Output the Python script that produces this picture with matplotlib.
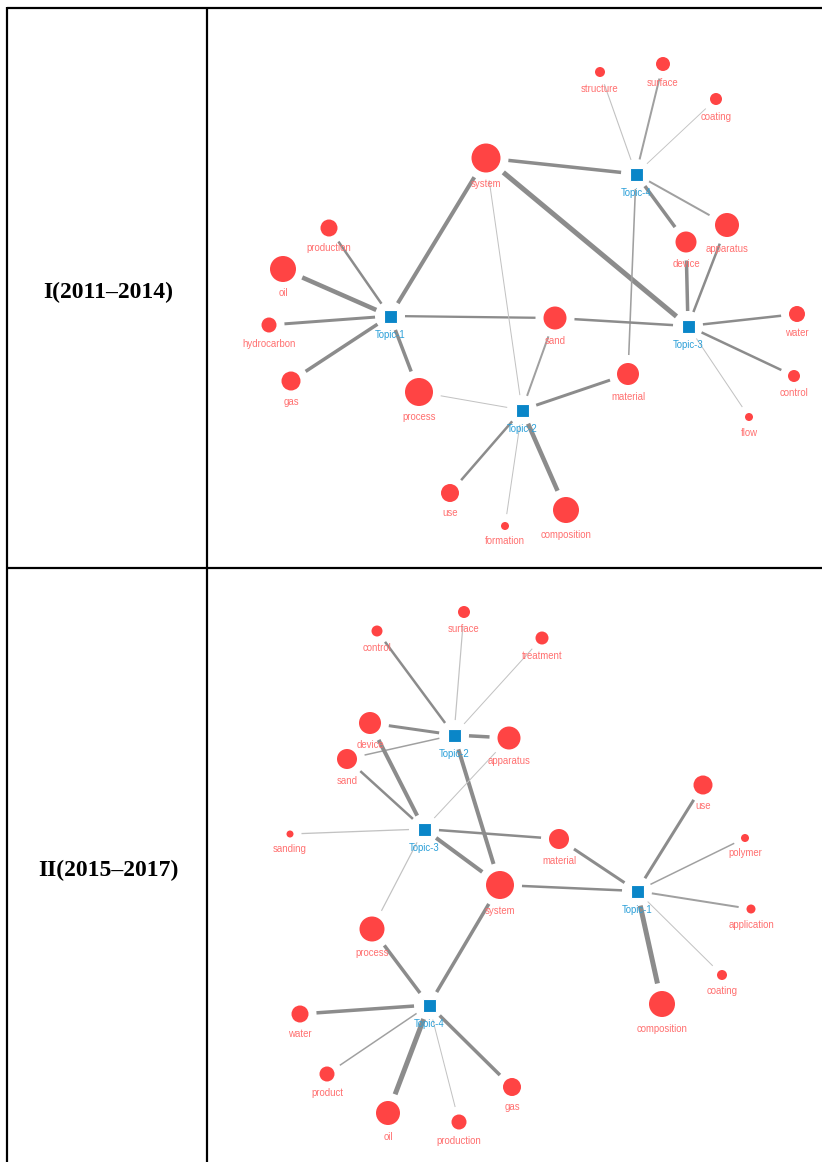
import numpy as np
import matplotlib
matplotlib.use("Agg")
import matplotlib.pyplot as plt
from matplotlib.patches import Circle, Rectangle

# ---- panel I (2011-2014) ----
p1_topics = ["Topic-1", "Topic-2", "Topic-3", "Topic-4"]
p1_topic_x = [390, 522, 688, 636]
p1_topic_y = [316, 410, 326, 174]

p1_terms = ["system", "production", "oil", "hydrocarbon", "gas", "process",
            "use", "formation", "composition", "sand", "material", "water",
            "control", "flow", "device", "apparatus", "structure", "surface",
            "coating"]
p1_term_x = [486, 329, 283, 269, 291, 419, 450, 505, 566, 555, 628, 797,
             794, 749, 686, 727, 600, 663, 716]
p1_term_y = [158, 228, 269, 325, 381, 392, 493, 526, 510, 318, 374, 314,
             376, 417, 242, 225, 72, 64, 99]
p1_term_w = [14.5, 8.5, 13, 7.5, 9.5, 14, 9, 4, 13, 11.5, 11, 8, 6, 4,
             10.5, 12, 5, 7, 6]

p1_edges = [
    ("Topic-1", "system", 4.0), ("Topic-1", "production", 2.5),
    ("Topic-1", "oil", 4.5), ("Topic-1", "hydrocarbon", 3.0),
    ("Topic-1", "gas", 3.5), ("Topic-1", "process", 3.5),
    ("Topic-1", "sand", 2.3),
    ("Topic-4", "system", 3.5), ("Topic-3", "system", 5.0),
    ("Topic-2", "system", 1.0),
    ("Topic-4", "structure", 1.1), ("Topic-4", "surface", 2.0),
    ("Topic-4", "coating", 0.9), ("Topic-4", "apparatus", 2.0),
    ("Topic-4", "device", 3.5), ("Topic-4", "material", 1.6),
    ("Topic-3", "device", 3.5), ("Topic-3", "apparatus", 2.5),
    ("Topic-3", "water", 2.5), ("Topic-3", "control", 2.5),
    ("Topic-3", "flow", 1.0), ("Topic-3", "sand", 2.5),
    ("Topic-2", "sand", 2.0), ("Topic-2", "material", 3.0),
    ("Topic-2", "process", 1.0), ("Topic-2", "use", 2.5),
    ("Topic-2", "formation", 1.0), ("Topic-2", "composition", 4.5),
]

# ---- panel II (2015-2017) ----
p2_topics = ["Topic-1", "Topic-2", "Topic-3", "Topic-4"]
p2_topic_x = [637, 454, 424, 429]
p2_topic_y = [891, 735, 829, 1005]

p2_terms = ["control", "surface", "treatment", "device", "apparatus", "sand",
            "sanding", "material", "system", "process", "use", "polymer",
            "application", "coating", "composition", "water", "product",
            "oil", "production", "gas"]
p2_term_x = [377, 464, 542, 370, 509, 347, 290, 559, 500, 372, 703, 745,
             751, 722, 662, 300, 327, 388, 459, 512]
p2_term_y = [631, 612, 638, 723, 738, 759, 834, 839, 885, 929, 785, 838,
             909, 975, 1004, 1014, 1074, 1113, 1122, 1087]
p2_term_w = [5.5, 6, 6.5, 11, 11.5, 10, 3.5, 10, 14, 12.5, 9.5, 4, 4.5,
             5, 13, 8.5, 7.5, 12, 7.5, 9]

p2_edges = [
    ("Topic-2", "control", 2.5), ("Topic-2", "surface", 1.2),
    ("Topic-2", "treatment", 1.0), ("Topic-2", "device", 3.0),
    ("Topic-2", "apparatus", 3.5), ("Topic-2", "sand", 1.5),
    ("Topic-2", "system", 4.0),
    ("Topic-3", "device", 4.0), ("Topic-3", "sand", 2.5),
    ("Topic-3", "apparatus", 1.0), ("Topic-3", "sanding", 1.3),
    ("Topic-3", "material", 2.5), ("Topic-3", "system", 4.0),
    ("Topic-3", "process", 1.2),
    ("Topic-1", "use", 3.0), ("Topic-1", "material", 3.0),
    ("Topic-1", "polymer", 1.5), ("Topic-1", "system", 2.5),
    ("Topic-1", "application", 2.0), ("Topic-1", "coating", 1.0),
    ("Topic-1", "composition", 5.0),
    ("Topic-4", "process", 3.5), ("Topic-4", "system", 3.5),
    ("Topic-4", "water", 3.5), ("Topic-4", "product", 1.5),
    ("Topic-4", "oil", 5.0), ("Topic-4", "production", 1.0),
    ("Topic-4", "gas", 3.5),
]

row_labels = ["I(2011\u20132014)", "II(2015\u20132017)"]

W, H = 822, 1162
fig = plt.figure(figsize=(W / 100, H / 100), dpi=100)
ax = fig.add_axes([0, 0, 1, 1])
ax.set_xlim(0, W)
ax.set_ylim(H, 0)
ax.set_aspect("equal")
ax.axis("off")

px = 0.72  # pixel -> point

# table grid
ax.plot([7, W], [8, 8], color="black", lw=2.2 * px, solid_capstyle="butt")
ax.plot([7, W], [568, 568], color="black", lw=2.2 * px, solid_capstyle="butt")
ax.plot([7, 7], [7, H], color="black", lw=2.2 * px, solid_capstyle="butt")
ax.plot([207, 207], [7, H], color="black", lw=2.2 * px, solid_capstyle="butt")

ax.text(108, 292, row_labels[0], ha="center", va="center",
        fontsize=17, fontweight="bold", family="Liberation Serif")
ax.text(108, 870, row_labels[1], ha="center", va="center",
        fontsize=17, fontweight="bold", family="Liberation Serif")


def draw_net(topics, tx, ty, terms, mx, my, mw, edges):
    pos = {}
    for n, x, y in zip(topics, tx, ty):
        pos[n] = (x, y, 6.5, True)
    for n, x, y, w in zip(terms, mx, my, mw):
        pos[n] = (x, y, w, False)

    for a, b, w in edges:
        x0, y0, r0, _ = pos[a]
        x1, y1, r1, _ = pos[b]
        d = np.hypot(x1 - x0, y1 - y0)
        ux, uy = (x1 - x0) / d, (y1 - y0) / d
        g0 = 15
        g1 = r1 + 8
        if w >= 2.3:
            col = "#8c8c8c"
        elif w >= 1.4:
            col = "#a0a0a0"
        else:
            col = "#c2c2c2"
        ax.plot([x0 + ux * g0, x1 - ux * g1], [y0 + uy * g0, y1 - uy * g1],
                color=col, lw=w * px, solid_capstyle="butt", zorder=1)

    for n, (x, y, r, is_topic) in pos.items():
        if is_topic:
            ax.add_patch(Rectangle((x - r, y - r), 2 * r, 2 * r,
                                   facecolor="#0a86c8", edgecolor="white",
                                   lw=0.8, zorder=3))
            ax.text(x, y + 19, n, ha="center", va="center", fontsize=6.9,
                    color="#2a9fd8", family="Liberation Sans", zorder=4)
        else:
            ax.add_patch(Circle((x, y), r, facecolor="#ff4444",
                                edgecolor="none", zorder=3))
            ax.text(x, y + r + 11.5, n, ha="center", va="center",
                    fontsize=6.9, color="#ff7070", family="Liberation Sans",
                    zorder=4)


draw_net(p1_topics, p1_topic_x, p1_topic_y, p1_terms, p1_term_x, p1_term_y,
         p1_term_w, p1_edges)
draw_net(p2_topics, p2_topic_x, p2_topic_y, p2_terms, p2_term_x, p2_term_y,
         p2_term_w, p2_edges)

fig.savefig("out.png", dpi=100)
